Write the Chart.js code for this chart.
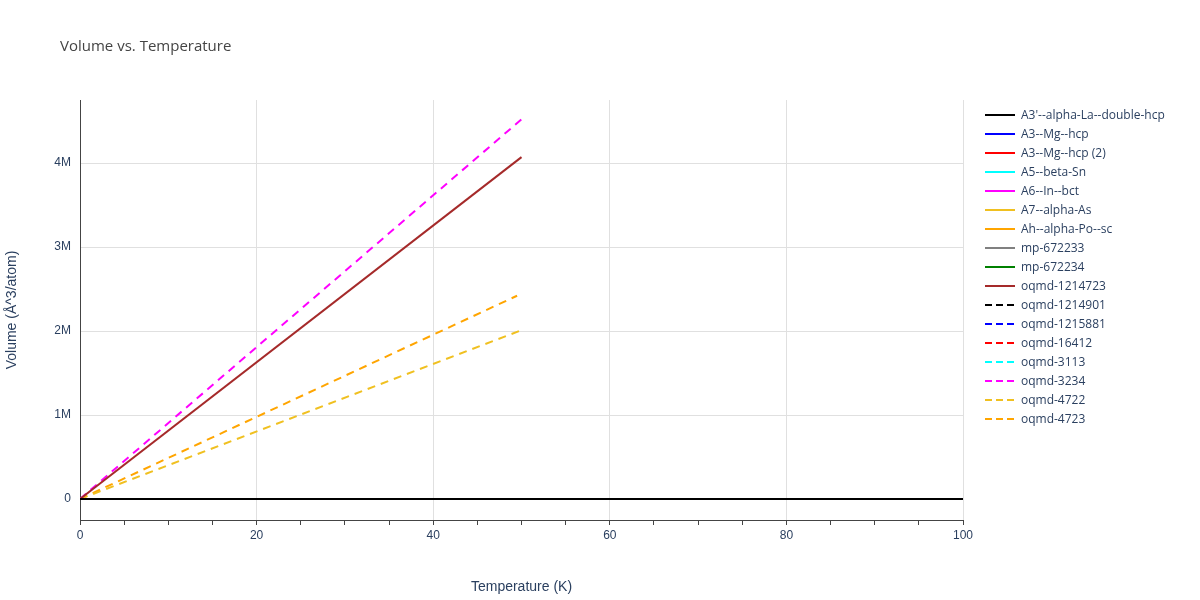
<!DOCTYPE html>
<html><head><meta charset="utf-8">
<script src="https://cdn.jsdelivr.net/npm/chart.js@4"></script>
<style>
body{margin:0;background:#fff;font-family:"Open Sans",sans-serif;}
#wrap{position:relative;width:1200px;height:600px;}
#title{position:absolute;left:60px;top:35px;font-size:15px;color:#444;}
#legend{position:absolute;left:985px;top:105px;font-size:12px;color:#2a3f5f;}
.li{height:19px;display:flex;align-items:center;}
.li svg{margin-right:6px;}
</style></head><body>
<div id="wrap"><canvas id="c" width="1200" height="600"></canvas>
<div id="title">Volume vs. Temperature</div><div id="legend"></div></div>
<script>
const seriesNames=["A3'--alpha-La--double-hcp","A3--Mg--hcp","A3--Mg--hcp (2)","A5--beta-Sn","A6--In--bct","A7--alpha-As","Ah--alpha-Po--sc","mp-672233","mp-672234","oqmd-1214723","oqmd-1214901","oqmd-1215881","oqmd-16412","oqmd-3113","oqmd-3234","oqmd-4722","oqmd-4723"];
const seriesColors=["#000000","#0000ff","#ff0000","#00ffff","#ff00ff","#f0c020","#ffa500","#808080","#008000","#a52a2a","#000000","#0000ff","#ff0000","#00ffff","#ff00ff","#f0c020","#ffa500"];
const seriesDashed=[false,false,false,false,false,false,false,false,false,false,true,true,true,true,true,true,true];
const seriesX=[[0,100],[0,100],[0,100],[0,100],[0,100],[0,100],[0,100],[0,100],[0,100],[0,50],[0,50],[0,50],[0,50],[0,50],[0,50],[0,50],[0,49.5]];
const seriesY=[[20,22],[23,24],[23,24],[27,28],[26,27],[21,22],[25,26],[23,24],[23,24],[0,4070000],[20,22],[23,24],[23,24],[27,28],[0,4520000],[0,2010000],[0,2420000]];
const xTicks=[0,20,40,60,80,100];
const datasets=seriesNames.map((n,i)=>({label:n,data:seriesX[i].map((x,j)=>({x:x,y:seriesY[i][j]})),borderColor:seriesColors[i],borderWidth:2,borderDash:seriesDashed[i]?[8,6]:[],pointRadius:0,fill:false}));
// draw orange solid last-ish so it shows on top at zero
const order=[...datasets.keys()].filter(i=>i!==6).concat([6]);
new Chart(document.getElementById('c'),{type:'line',data:{datasets:order.map(i=>datasets[i])},
options:{responsive:false,animation:false,layout:{padding:{left:0,right:237,top:100,bottom:0}},
plugins:{legend:{display:false},tooltip:{enabled:false}},
scales:{x:{type:'linear',min:0,max:100,afterFit:s=>{s.height=80;},
 afterBuildTicks:s=>{s.ticks=[];for(let v=0;v<=100;v+=5)s.ticks.push({value:v});},
 ticks:{autoSkip:false,maxRotation:0,color:'#2a3f5f',font:{size:12},callback:v=>xTicks.includes(v)?v:''},
 grid:{color:c=>(c.tick&&c.tick.value%20===0&&c.tick.value>0)?'#e0e0e0':'transparent',tickColor:'#444',tickLength:5,drawTicks:true},
 border:{color:'#444'},
 title:{display:true,text:'Temperature (K)',color:'#2a3f5f',font:{size:14}}},
y:{type:'linear',min:-250000,max:4750000,afterFit:s=>{s.width=80;},
 afterBuildTicks:s=>{s.ticks=[];for(let v=0;v<=4e6;v+=1e6)s.ticks.push({value:v});},
 ticks:{color:'#2a3f5f',font:{size:12},callback:v=>v===0?'0':(v/1e6)+'M'},
 grid:{color:'#e0e0e0',tickColor:'transparent',tickLength:6},border:{color:'#444'},
 title:{display:true,text:'Volume (Å^3/atom)',color:'#2a3f5f',font:{size:14}}}}}});
const lg=document.getElementById('legend');
seriesNames.forEach((n,i)=>{lg.insertAdjacentHTML('beforeend',`<div class="li"><svg width="30" height="6"><line x1="0" y1="3" x2="30" y2="3" stroke="${seriesColors[i]}" stroke-width="2" ${seriesDashed[i]?'stroke-dasharray="7,4"':''}/></svg>${n}</div>`);});
</script></body></html>
